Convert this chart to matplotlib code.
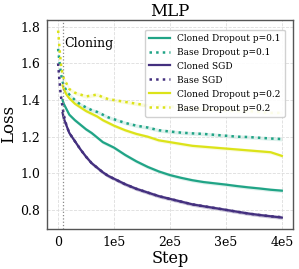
import matplotlib
matplotlib.use("Agg")
import matplotlib.pyplot as plt
import numpy as np

plt.rcParams['font.family'] = ['DejaVu Serif']

# steps in units of 1e5
steps_base = [0, 0.02, 0.04, 0.06, 0.08, 0.1, 0.15, 0.2, 0.3, 0.4, 0.5, 0.6, 0.7, 0.8, 0.9, 1.0,
              1.2, 1.4, 1.6, 1.8, 2.0, 2.2, 2.4, 2.6, 2.8, 3.0, 3.2, 3.4, 3.6, 3.8, 4.0]
steps_clone = [0.08, 0.1, 0.15, 0.2, 0.3, 0.4, 0.5, 0.6, 0.7, 0.8, 0.9, 1.0,
               1.2, 1.4, 1.6, 1.8, 2.0, 2.2, 2.4, 2.6, 2.8, 3.0, 3.2, 3.4, 3.6, 3.8, 4.0]
clone_step = 0.08

base_do2 = [1.78, 1.70, 1.63, 1.57, 1.54, 1.52, 1.49, 1.46, 1.44, 1.43, 1.42, 1.425, 1.43, 1.415, 1.405, 1.40,
            1.39, 1.38, 1.37, 1.37, 1.365, 1.36, 1.355, 1.35, 1.345, 1.345, 1.34, 1.34, 1.335, 1.33, 1.33]
base_do1 = [1.68, 1.62, 1.57, 1.53, 1.50, 1.48, 1.45, 1.43, 1.40, 1.375, 1.36, 1.345, 1.335, 1.32, 1.305, 1.295,
            1.275, 1.26, 1.25, 1.235, 1.228, 1.222, 1.218, 1.215, 1.21, 1.205, 1.20, 1.198, 1.194, 1.19, 1.187]
base_sgd = [1.60, 1.52, 1.45, 1.40, 1.36, 1.32, 1.26, 1.22, 1.175, 1.13, 1.09, 1.055, 1.03, 1.005, 0.985, 0.97,
            0.94, 0.915, 0.895, 0.875, 0.86, 0.845, 0.83, 0.82, 0.81, 0.80, 0.79, 0.78, 0.772, 0.765, 0.76]
clone_sgd = [1.33, 1.30, 1.26, 1.22, 1.175, 1.13, 1.09, 1.055, 1.03, 1.005, 0.985, 0.97,
             0.94, 0.915, 0.895, 0.875, 0.86, 0.845, 0.83, 0.82, 0.81, 0.80, 0.79, 0.78, 0.772, 0.765, 0.758]
clone_do1 = [1.40, 1.38, 1.35, 1.32, 1.29, 1.265, 1.24, 1.22, 1.195, 1.17, 1.155, 1.14,
             1.10, 1.065, 1.035, 1.01, 0.99, 0.975, 0.962, 0.952, 0.945, 0.938, 0.93, 0.923, 0.917, 0.91, 0.905]
clone_do2 = [1.48, 1.46, 1.43, 1.41, 1.38, 1.36, 1.34, 1.325, 1.31, 1.29, 1.275, 1.26,
             1.235, 1.215, 1.20, 1.18, 1.17, 1.16, 1.15, 1.145, 1.14, 1.135, 1.13, 1.125, 1.12, 1.115, 1.095]

c_teal = '#20a486'
c_purple = '#44307f'
c_yellow = '#dce319'

fig = plt.figure(figsize=(2.99, 2.69), dpi=100)
ax = fig.add_axes([0.157, 0.149, 0.823, 0.777])

xs_b = np.array(steps_base) * 1e5
xs_c = np.array(steps_clone) * 1e5

series = [
    (xs_c, clone_do1, c_teal, '-', 'Cloned Dropout p=0.1'),
    (xs_b, base_do1, c_teal, ':', 'Base Dropout p=0.1'),
    (xs_c, clone_sgd, c_purple, '-', 'Cloned SGD'),
    (xs_b, base_sgd, c_purple, ':', 'Base SGD'),
    (xs_c, clone_do2, c_yellow, '-', 'Cloned Dropout p=0.2'),
    (xs_b, base_do2, c_yellow, ':', 'Base Dropout p=0.2'),
]
for x, y, c, ls, lab in series:
    y = np.array(y)
    ax.fill_between(x, y - 0.01, y + 0.01, color=c, alpha=0.15, lw=0)
    ax.plot(x, y, color=c, ls=ls, lw=1.8 if ls == ':' else 1.6, label=lab)

ax.axvline(clone_step * 1e5, color='#888888', ls=':', lw=0.9)
ax.text(clone_step * 1e5 + 0.03e5, 1.71, 'Cloning', fontsize=9, va='center', ha='left')

ax.set_xlim(-0.2e5, 4.2e5)
ax.set_ylim(0.696, 1.838)
ax.set_xticks([0, 1e5, 2e5, 3e5, 4e5])
ax.set_xticklabels(['0', '1e5', '2e5', '3e5', '4e5'])
ax.set_yticks([0.8, 1.0, 1.2, 1.4, 1.6, 1.8])
ax.tick_params(labelsize=9, length=0, pad=5)
ax.grid(True, ls='--', color='#dddddd', lw=0.6)
for s in ax.spines.values():
    s.set_color('#555555')
    s.set_linewidth(1.0)

ax.set_xlabel('Step', fontsize=11.5, labelpad=1)
ax.set_ylabel('Loss', fontsize=12, labelpad=2)
ax.set_title('MLP', fontsize=12, pad=3)

ax.legend(loc='upper right', fontsize=6.5, labelspacing=0.55, handlelength=2.3,
          borderpad=0.45, framealpha=0.9, edgecolor='#cccccc', bbox_to_anchor=(0.985, 0.975))

fig.savefig('out.png', dpi=100)
